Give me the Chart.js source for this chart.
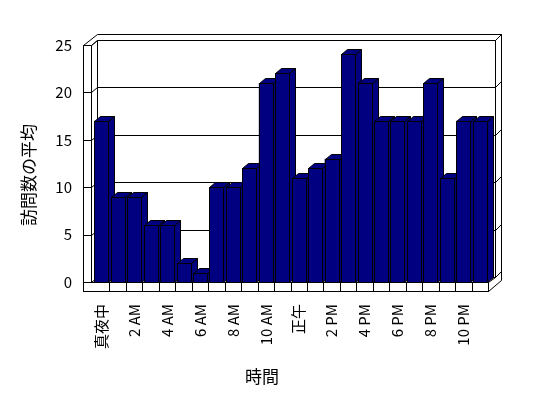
<!DOCTYPE html>
<html>
<head>
<meta charset="utf-8">
<script src="https://cdn.jsdelivr.net/npm/chart.js"></script>
<style>
  html, body { margin: 0; padding: 0; background: #fff; }
</style>
</head>
<body>
<canvas id="hourChart" width="548" height="398"></canvas>
<script>
var hours = ['真夜中', '1 AM', '2 AM', '3 AM', '4 AM', '5 AM', '6 AM', '7 AM', '8 AM', '9 AM', '10 AM', '11 AM',
             '正午', '1 PM', '2 PM', '3 PM', '4 PM', '5 PM', '6 PM', '7 PM', '8 PM', '9 PM', '10 PM', '11 PM'];
var visits = [17, 9, 9, 6, 6, 2, 1, 10, 10, 12, 21, 22, 11, 12, 13, 24, 21, 17, 17, 17, 21, 11, 17, 17];
var yTicks = [0, 5, 10, 15, 20, 25];
var yTitle = '訪問数の平均';
var xTitle = '時間';

var FONT = '"Noto Sans CJK JP", "DejaVu Sans", sans-serif';
var BAR = '#000080';
var DX = 6, DY = -5;   // bar depth

function line(ctx, pts) {
    ctx.beginPath();
    ctx.moveTo(pts[0][0], pts[0][1]);
    for (var i = 1; i < pts.length; i++) ctx.lineTo(pts[i][0], pts[i][1]);
    ctx.stroke();
}

var depth3d = {
    id: 'depth3d',
    beforeDatasetsDraw: function(chart) {
        var ctx = chart.ctx, ca = chart.chartArea;
        var ys = chart.scales.y, xs = chart.scales.x;
        var x0 = Math.round(ca.left) - 9.5, x1 = x0 + 8, xb = x0 + 14;
        var xr = Math.round(ca.right) + 7.5, xro = xr + 6;
        var top = Math.round(ca.top) + 0.5, bot = Math.round(ca.bottom) + 0.5, yf = bot + 9;
        ctx.save();
        ctx.strokeStyle = '#000';
        ctx.lineWidth = 1;
        // left wall
        line(ctx, [[x0, yf], [x0, top], [x1, top], [x1, bot]]);
        line(ctx, [[x0, top], [xb, top - 11], [xro, top - 11], [xro, yf - 11], [Math.round(ca.right) + 0.5, yf]]);
        line(ctx, [[x1, top], [xb, top - 5], [xr, top - 5], [xro, top - 11]]);
        line(ctx, [[xb, top - 5], [xb, bot - 5]]);
        line(ctx, [[xr, top - 5], [xr, bot - 5]]);
        // grid lines on the walls
        yTicks.forEach(function(v) {
            var fy = Math.round(ys.getPixelForValue(v)) + 0.5;
            line(ctx, [[x0, fy], [x1, fy], [xb, fy - 5], [xr, fy - 5], [xro, fy - 11]]);
        });
        // floor
        ctx.fillStyle = '#fff';
        ctx.fillRect(x0, bot, Math.round(ca.right) + 0.5 - x0, 9);
        ctx.strokeRect(x0, bot, Math.round(ca.right) + 0.5 - x0, 9);
        line(ctx, [[Math.round(ca.right) + 0.5, bot], [xr, bot - 5]]);
        var step = (xs.getPixelForValue(1) - xs.getPixelForValue(0));
        for (var i = 0; i < hours.length - 1; i++) {
            var xd = Math.round(xs.getPixelForValue(i) + step / 2) + 0.5;
            line(ctx, [[xd, bot], [xd, yf]]);
        }
        ctx.restore();
    },
    afterDatasetsDraw: function(chart) {
        var ctx = chart.ctx;
        var bars = chart.getDatasetMeta(0).data;
        ctx.save();
        ctx.strokeStyle = '#000';
        ctx.fillStyle = BAR;
        ctx.lineWidth = 1;
        bars.forEach(function(b) {
            var l = Math.round(b.x - b.width / 2) + 0.5, r = Math.round(b.x + b.width / 2) + 0.5;
            var t = Math.round(b.y) + 0.5, bs = Math.round(b.base) + 0.5;
            // side
            ctx.beginPath();
            ctx.moveTo(r, t); ctx.lineTo(r + DX, t + DY); ctx.lineTo(r + DX, bs + DY); ctx.lineTo(r, bs);
            ctx.closePath(); ctx.fill(); ctx.stroke();
            // top
            ctx.beginPath();
            ctx.moveTo(l, t); ctx.lineTo(l + DX, t + DY); ctx.lineTo(r + DX, t + DY); ctx.lineTo(r, t);
            ctx.closePath(); ctx.fill(); ctx.stroke();
            // front
            ctx.fillRect(l, t, r - l, bs - t);
            ctx.strokeRect(l, t, r - l, bs - t);
        });
        ctx.restore();
    },
    afterDraw: function(chart) {
        var ctx = chart.ctx;
        ctx.save();
        ctx.fillStyle = '#000';
        ctx.font = '17px ' + FONT;
        ctx.textAlign = 'center';
        ctx.textBaseline = 'middle';
        ctx.fillText(xTitle, 262, 377);
        ctx.translate(29, 175);
        ctx.rotate(-Math.PI / 2);
        ctx.fillText(yTitle, 0, 0);
        ctx.restore();
    }
};

var ctx = document.getElementById('hourChart');
new Chart(ctx, {
    type: 'bar',
    data: {
        labels: hours,
        datasets: [{
            label: yTitle,
            data: visits,
            backgroundColor: BAR,
            borderColor: '#000',
            borderWidth: 0,
            barPercentage: 0.85,
            categoryPercentage: 1
        }]
    },
    options: {
        responsive: false,
        animation: false,
        layout: { padding: { top: 45, right: 60, left: 0, bottom: 46 } },
        plugins: { legend: { display: false }, tooltip: { enabled: false } },
        scales: {
            x: {
                grid: { display: false, drawTicks: false },
                border: { display: false },
                afterFit: function(s) { s.height = 70; },
                ticks: {
                    autoSkip: false,
                    minRotation: 90,
                    maxRotation: 90,
                    padding: 22,
                    color: '#000',
                    font: { family: FONT, size: 15 },
                    callback: function(v, i) { return i % 2 === 0 ? hours[i] : ''; }
                }
            },
            y: {
                min: 0,
                max: 25,
                grid: { display: false, drawTicks: false },
                border: { display: false },
                afterFit: function(s) { s.width = 93; },
                ticks: {
                    stepSize: 5,
                    padding: 21,
                    color: '#000',
                    font: { family: FONT, size: 15 }
                }
            }
        }
    },
    plugins: [depth3d]
});
</script>
</body>
</html>
